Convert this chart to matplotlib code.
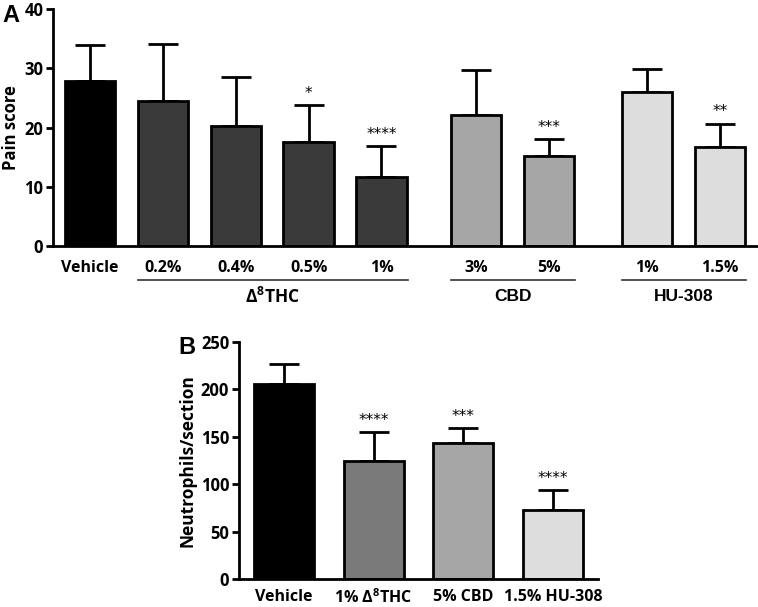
import numpy as np
import matplotlib.pyplot as plt
from matplotlib.transforms import blended_transform_factory

plt.rcParams['font.family'] = ['Open Sans', 'DejaVu Sans']
plt.rcParams['font.weight'] = 'bold'
plt.rcParams['axes.labelweight'] = 'bold'
plt.rcParams['mathtext.default'] = 'regular'

# panel A data
a_labels = ["Vehicle", "0.2%", "0.4%", "0.5%", "1%", "3%", "5%", "1%", "1.5%"]
a_pos = [0, 1, 2, 3, 4, 5.3, 6.3, 7.65, 8.65]
a_mean = [27.9, 24.5, 20.2, 17.6, 11.6, 22.1, 15.2, 26.0, 16.8]
a_err = [6.1, 9.6, 8.4, 6.2, 5.3, 7.7, 2.9, 3.95, 3.9]
a_stars = ["", "", "", "*", "****", "", "***", "", "**"]
a_colors = ["#000000", "#3a3a3a", "#3a3a3a", "#3a3a3a", "#3a3a3a",
            "#a6a6a6", "#a6a6a6", "#dddddd", "#dddddd"]
groups = [("Δ$^{8}$THC", 1, 4), ("CBD", 5.3, 6.3), ("HU-308", 7.65, 8.65)]

# panel B data
b_labels = ["Vehicle", "1% Δ$^{8}$THC", "5% CBD", "1.5% HU-308"]
b_mean = [205.7, 124.2, 143.8, 72.5]
b_err = [20.8, 30.5, 15.8, 21.7]
b_stars = ["", "****", "***", "****"]
b_colors = ["#000000", "#7a7a7a", "#a6a6a6", "#dddddd"]

fig = plt.figure(figsize=(7.58, 6.07), dpi=100)


def style(ax, pad):
    for s in ["top", "right"]:
        ax.spines[s].set_visible(False)
    for s in ["left", "bottom"]:
        ax.spines[s].set_linewidth(2)
    ax.tick_params(axis="y", width=2, length=5, labelsize=12, pad=2)
    ax.tick_params(axis="x", length=0, pad=pad, labelsize=11.5)


def draw_bars(ax, pos, mean, err, colors, stars, width):
    ax.bar(pos, mean, width=width, color=colors, edgecolor="black", linewidth=2, zorder=2)
    ax.errorbar(pos, mean, yerr=[np.zeros(len(err)), err], fmt="none", ecolor="black",
                elinewidth=2, capsize=11, capthick=2, zorder=1)
    for x, m, e, st in zip(pos, mean, err, stars):
        if st:
            ax.annotate(st, (x, m + e), xytext=(0, 3), textcoords="offset points",
                        ha="center", va="bottom", fontsize=11, fontweight="normal",
                        family="DejaVu Sans")


# panel A
axA = fig.add_axes([0.0699, 0.5947, 0.93, 0.39])
draw_bars(axA, a_pos, a_mean, a_err, a_colors, a_stars, 0.69)
style(axA, 10)
axA.set_xlim(-0.51, 9.17)
axA.set_ylim(0, 40)
axA.set_yticks([0, 10, 20, 30, 40])
axA.set_xticks(a_pos)
axA.set_xticklabels(a_labels)
axA.set_ylabel("Pain score", fontsize=12, labelpad=3)
tr = blended_transform_factory(axA.transData, axA.transAxes)
for name, x0, x1 in groups:
    axA.plot([x0 - 0.34, x1 + 0.36], [-0.144, -0.144], color="#333333", lw=1.2,
             transform=tr, clip_on=False)
    if name == "CBD" or name == "HU-308":
        axA.text((x0 + x1) / 2, -0.215, name, transform=tr, ha="center", va="center",
                 fontsize=12.5, family="Liberation Sans", fontweight="bold")
    else:
        axA.text((x0 + x1) / 2, -0.215, name, transform=tr, ha="center", va="center",
                 fontsize=12.5, fontweight="bold")
fig.text(0.003, 0.975, "A", fontsize=17, family="Liberation Sans", fontweight="bold",
         va="center")

# panel B
axB = fig.add_axes([0.3153, 0.0461, 0.4737, 0.3905])
b_pos = np.arange(len(b_mean))
draw_bars(axB, b_pos, b_mean, b_err, b_colors, b_stars, 0.67)
style(axB, 7)
axB.set_xlim(-0.5, 3.5)
axB.set_ylim(0, 250)
axB.set_yticks([0, 50, 100, 150, 200, 250])
axB.set_xticks(b_pos)
axB.set_xticklabels(b_labels, fontsize=11.5)
axB.set_ylabel("Neutrophils/section", fontsize=12.5, labelpad=3)
fig.text(0.2348, 0.428, "B", fontsize=17, family="Liberation Sans", fontweight="bold",
         va="center")

fig.savefig("out.png", dpi=100)
